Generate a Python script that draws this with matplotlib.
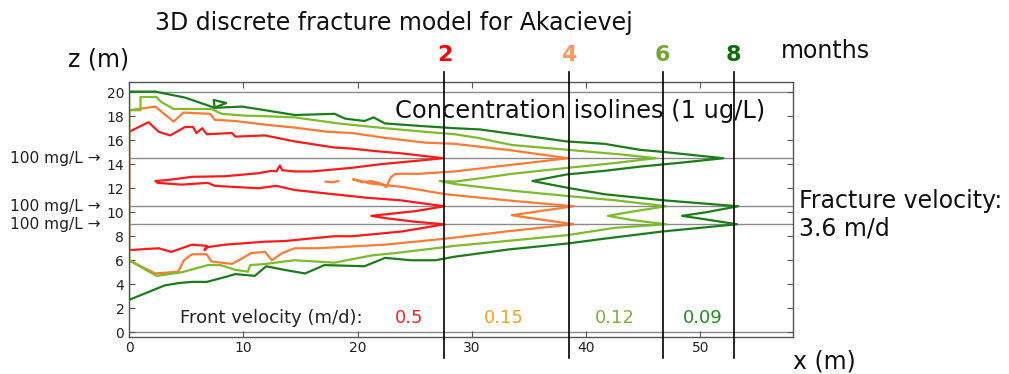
import matplotlib
matplotlib.use("Agg")
import matplotlib.pyplot as plt

# ---------------- data ----------------
months = ["2", "4", "6", "8"]
front_x = [27.6, 38.5, 46.7, 52.9]          # front position (m) per month
front_velocity = ["0.5", "0.15", "0.12", "0.09"]
fracture_z = [14.5, 10.5, 9.0]               # 100 mg/L fractures
grid_z = [0.0, 20.0]

red_x = [0, 1.7, 2.6, 3.6, 4.9, 5.6, 5.9, 6.4, 6.8, 9.0, 9.3, 11.9, 14.5, 17.9, 19.5, 21.5, 23.9, 27.5,
         25.3, 22.0, 19.5, 16.0, 14.5, 13.4, 13.2, 12.9, 12.5, 11.3, 8.4, 5.5, 3.5, 2.3,
         2.5, 4.6, 6.9, 7.5, 11.3, 12.9, 14.5, 17.9, 20.9, 23.7, 27.6,
         25.1, 21.2, 22.5, 25.1, 27.6,
         23.9, 19.5, 17.9, 13.6, 11.9, 8.4, 6.9, 6.6, 6.8, 5.5, 3.7, 2.6, 0, 0]
red_z = [16.7, 17.5, 16.7, 16.4, 17.1, 17.1, 16.6, 17.0, 16.5, 16.6, 16.3, 16.4, 15.9, 15.4, 15.3, 15.1, 14.9, 14.5,
         14.3, 14.0, 13.7, 13.4, 13.4, 13.5, 13.9, 13.4, 13.45, 13.25, 13.0, 12.95, 12.7, 12.6,
         12.45, 12.3, 12.45, 12.2, 12.0, 12.2, 11.85, 11.5, 11.2, 11.0, 10.5,
         10.1, 9.7, 9.5, 9.2, 9.0,
         8.4, 8.0, 8.0, 7.6, 7.55, 7.3, 7.1, 6.85, 7.2, 7.3, 6.7, 7.0, 6.85, 16.7]

orange_x = [0, 2.3, 3.9, 4.75, 7.1, 7.5, 9.3, 11.9, 14.5, 17.4, 19.5, 22.4, 25.9, 28.5, 33.5, 38.4,
            33.0, 28.5, 25.3, 23.3, 22.9, 22.5, 22.0, 21.2, 20.4, 19.6, 20.5, 21.1, 24.0, 27.7, 33.0, 38.9,
            36.0, 33.5, 36.0, 38.9,
            33.0, 27.7, 22.4, 16.5, 14.5, 13.4, 12.5, 11.9, 10.7, 9.6, 9.0, 7.2, 6.8, 5.5, 4.8, 4.3, 2.3, 0, 0]
orange_z = [18.5, 18.8, 17.55, 18.3, 18.2, 17.7, 17.6, 17.3, 17.05, 16.7, 16.6, 16.2, 15.8, 15.7, 15.15, 14.5,
            13.9, 13.4, 13.2, 13.2, 12.9, 12.1, 12.4, 12.6, 12.5, 12.75, 12.55, 12.4, 12.1, 11.5, 11.0, 10.5,
            10.1, 9.75, 9.4, 9.0,
            8.4, 7.8, 7.3, 7.0, 7.0, 6.6, 6.0, 6.7, 6.6, 6.0, 5.7, 5.9, 6.5, 6.5, 6.0, 5.05, 4.9, 6.0, 18.5]
orange_frag_x = [17.2, 17.8, 18.3]
orange_frag_z = [12.55, 12.5, 12.6]

lgreen_x = [0, 1.0, 1.0, 2.4, 2.8, 3.9, 7.2, 8.1, 10.1, 12.0, 14.5, 18.3, 22.4, 25.9, 28.5, 30.5, 33.5, 38.4, 43.2, 46.1,
            42.5, 38.4, 33.5, 30.5, 28.5, 27.2, 28.5, 33.5, 38.4, 42.5, 47.0,
            44.0, 41.9, 44.0, 47.0,
            42.5, 38.4, 33.0, 28.5, 26.8, 23.3, 21.2, 18.0, 14.5, 13.6, 12.0, 10.6, 10.4, 9.3, 8.0, 6.9, 4.6, 2.4, 0, 0]
lgreen_z = [18.5, 18.5, 19.6, 19.6, 19.2, 18.6, 18.6, 18.2, 18.05, 18.0, 17.9, 17.4, 17.0, 16.7, 16.5, 16.2, 15.6, 15.2, 14.8, 14.5,
            14.1, 13.7, 13.2, 12.8, 12.55, 12.6, 12.35, 11.8, 11.35, 11.0, 10.5,
            10.05, 9.7, 9.35, 9.0,
            8.7, 8.1, 7.6, 7.2, 7.0, 6.6, 6.4, 5.8, 6.0, 5.9, 5.7, 5.6, 5.05, 5.2, 5.6, 5.6, 5.0, 4.7, 6.0, 18.5]

dgreen_x = [0, 2.3, 4.9, 7.5, 9.9, 11.9, 14.5, 18.0, 18.9, 20.6, 21.4, 22.4, 25.3, 28.5, 30.7, 38.3, 41.6, 44.7, 47.0, 52.0,
            48.0, 44.7, 41.6, 38.3, 35.3, 38.3, 41.6, 44.7, 46.7, 53.3,
            50.5, 48.4, 50.5, 53.2,
            46.7, 41.6, 38.4, 33.2, 28.5, 26.8, 24.7, 22.4, 20.6, 17.1, 15.4, 13.6, 12.0, 11.0, 9.3, 8.4, 6.8, 5.5, 4.3, 3.1, 0, 0]
dgreen_z = [20.05, 20.05, 19.55, 18.7, 18.8, 18.5, 18.1, 18.2, 17.8, 17.6, 17.9, 17.4, 17.2, 17.0, 16.9, 15.9, 15.7, 15.2, 15.0, 14.5,
            14.1, 13.8, 13.45, 13.15, 12.6, 12.05, 11.5, 11.2, 11.0, 10.5,
            10.0, 9.7, 9.4, 9.0,
            8.4, 7.8, 7.4, 6.9, 6.3, 6.0, 6.0, 6.2, 5.5, 5.6, 4.9, 5.2, 5.5, 4.7, 4.85, 4.6, 4.2, 4.2, 4.1, 3.9, 2.7, 20.05]
dgreen_loop_x = [7.5, 7.4, 8.5, 7.7]
dgreen_loop_z = [18.7, 19.35, 19.1, 18.8]

# ---------------- styles ----------------
W, H = 1009, 374
c_red, c_orange, c_lgreen, c_dgreen = "#ff1a1a", "#ff7a33", "#7cbb2a", "#1a7d1a"
month_colors = ["#ff0000", "#ff9966", "#77a436", "#0f6a0f"]
vel_colors = ["#ff2222", "#ffa020", "#80ad45", "#228a22"]

fig = plt.figure(figsize=(W / 100, H / 100), dpi=100)
L, R, T, B = 128.5, 793, 82, 336.5
ax = fig.add_axes([L / W, (H - B) / H, (R - L) / W, (B - T) / H])
ax.set_xlim(-0.05, 58.1)
ax.set_ylim(-0.35, 20.85)


def fx(px):
    return px / W


def fy(py):
    return 1 - py / H


for z in fracture_z + grid_z:
    ax.axhline(z, color="#8a8a8a", lw=1.0, zorder=1)

lw = 1.6
ax.plot(red_x, red_z, color=c_red, lw=lw, zorder=3)
ax.plot(orange_x, orange_z, color=c_orange, lw=lw, zorder=3)
ax.plot(orange_frag_x, orange_frag_z, color=c_orange, lw=lw, zorder=3)
ax.plot(lgreen_x, lgreen_z, color=c_lgreen, lw=lw, zorder=4)
ax.plot(dgreen_x, dgreen_z, color=c_dgreen, lw=lw, zorder=5)
ax.plot(dgreen_loop_x, dgreen_loop_z, color=c_dgreen, lw=lw, zorder=5)

for xv in front_x:
    ax.plot([xv, xv], [-2.14, 21.68], color="black", lw=1.2, clip_on=False, zorder=6)

for s in ax.spines.values():
    s.set_color("#555555")
    s.set_linewidth(1.0)

ax.set_xticks([0, 10, 20, 30, 40, 50])
ax.set_yticks(list(range(0, 21, 2)))
ax.tick_params(direction="in", top=True, right=True, length=4, width=0.8,
               color="#555555", labelsize=10, labelcolor="#222222", pad=3)

# labels & texts
big = 17
fig.text(fx(155), fy(23), "3D discrete fracture model for Akacievej", fontsize=big,
         ha="left", va="center", color="#111111")
fig.text(fx(68), fy(59), "z (m)", fontsize=big, ha="left", va="center", color="#111111")
fig.text(fx(781), fy(51), "months", fontsize=big, ha="left", va="center", color="#111111")
for m, xv, col in zip(months, front_x, month_colors):
    ax.text(xv, 23.1, m, fontsize=16, fontweight="bold", color=col, ha="center", va="center",
            clip_on=False)

ax.text(23.25, 18.45, "Concentration isolines (1 ug/L)", fontsize=17.4, ha="left", va="center",
        color="#111111", zorder=7)
fig.text(fx(799), fy(201), "Fracture velocity:", fontsize=big, ha="left", va="center", color="#111111")
fig.text(fx(799), fy(229), "3.6 m/d", fontsize=big, ha="left", va="center", color="#111111")
fig.text(fx(793), fy(361), "x (m)", fontsize=big, ha="left", va="center", color="#111111")

for z in fracture_z:
    ax.annotate("100 mg/L \u2192", xy=(0, z), xycoords="data", xytext=(-28, 0),
                textcoords="offset pixels", ha="right", va="center", fontsize=11.2,
                color="#222222", annotation_clip=False)

ax.text(4.5, 1.2, "Front velocity (m/d):", fontsize=13, ha="left", va="center", color="#222222")
vel_x = [24.5, 32.8, 42.5, 50.2]
for v, xv, col in zip(front_velocity, vel_x, vel_colors):
    ax.text(xv, 1.2, v, fontsize=13, ha="center", va="center", color=col)

fig.savefig("out.png", dpi=100)
